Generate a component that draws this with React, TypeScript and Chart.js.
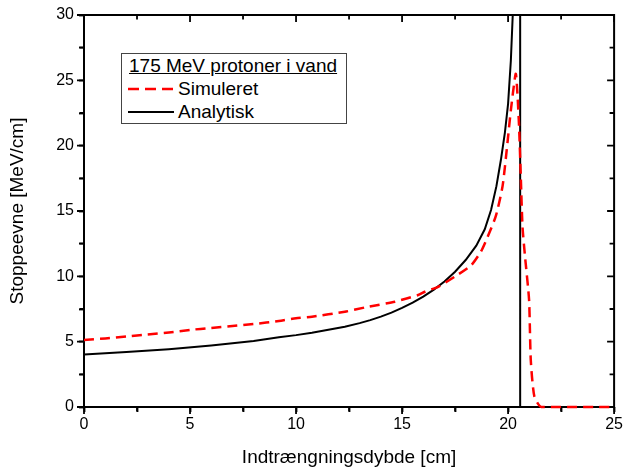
import React, { useEffect, useRef } from "react";
import { Chart, registerables } from "chart.js";

Chart.register(...registerables);

// Analytisk (analytical) stopping power
const analytiskX = [0, 2, 4, 6, 8, 9.19, 10, 10.75, 12.3, 13, 13.5, 14, 14.5, 15, 15.5, 16, 16.5, 17, 17.5, 18, 18.5, 18.9, 19.2, 19.45, 19.66, 19.85, 20.0, 20.13, 20.22, 20.35, 20.57, 20.57, 25];
const analytiskY = [4.02, 4.2, 4.42, 4.7, 5.05, 5.33, 5.5, 5.69, 6.14, 6.42, 6.65, 6.92, 7.22, 7.58, 7.98, 8.45, 8.98, 9.6, 10.35, 11.25, 12.35, 13.6, 15.1, 16.9, 18.9, 21.0, 23.2, 26.5, 30, 45, 45, 0, 0];

// Simuleret (simulated) stopping power
const simuleretX = [0, 1, 2, 3, 4, 5, 6, 7, 8, 9.19, 10, 10.75, 12.3, 13.4, 14.66, 15.76, 16.07, 16.7, 17.48, 18.26, 18.72, 19.03, 19.42, 19.74, 19.97, 20.13, 20.36, 20.44, 20.52, 20.6, 20.68, 20.8, 20.99, 21.07, 21.24, 21.57, 25];
const simuleretY = [5.13, 5.25, 5.4, 5.55, 5.7, 5.9, 6.05, 6.2, 6.35, 6.58, 6.8, 6.91, 7.29, 7.67, 8.06, 8.57, 8.82, 9.2, 9.97, 10.85, 11.9, 13.0, 14.6, 16.9, 20.2, 22.7, 25.5, 24.0, 21.4, 17.6, 13.8, 11.5, 8.2, 3.6, 0.8, 0, 0];

const xTicks = [0, 5, 10, 15, 20, 25];
const yTicks = [0, 5, 10, 15, 20, 25, 30];

const legendTitle = "175 MeV protoner i vand";
const seriesNames = ["Simuleret", "Analytisk"];
const xTitle = "Indtrængningsdybde [cm]";
const yTitle = "Stoppeevne [MeV/cm]";

const FONT = '"Liberation Sans", Arial, sans-serif';

const framePlugin = {
  id: "frameTicks",
  beforeDatasetsDraw(chart: any) {
    const { ctx, chartArea } = chart;
    const xs = chart.scales.x;
    const ys = chart.scales.y;
    ctx.save();
    ctx.strokeStyle = "#000";
    ctx.lineWidth = 2;
    ctx.strokeRect(chartArea.left, chartArea.top, chartArea.right - chartArea.left, chartArea.bottom - chartArea.top);
    ctx.lineWidth = 1.8;
    ctx.beginPath();
    xs.ticks.forEach((t: any) => {
      const px = xs.getPixelForValue(t.value);
      const major = xTicks.includes(t.value);
      const len = major ? 7 : 4.5;
      ctx.moveTo(px, chartArea.bottom);
      ctx.lineTo(px, chartArea.bottom + len);
      ctx.moveTo(px, chartArea.top);
      ctx.lineTo(px, chartArea.top + len);
    });
    ys.ticks.forEach((t: any) => {
      const py = ys.getPixelForValue(t.value);
      const major = yTicks.includes(t.value);
      const len = major ? 7 : 4.5;
      ctx.moveTo(chartArea.left, py);
      ctx.lineTo(chartArea.left - len, py);
      ctx.moveTo(chartArea.right, py);
      ctx.lineTo(chartArea.right - len, py);
    });
    ctx.stroke();
    ctx.restore();
  },
};

export default function App() {
  const canvasRef = useRef<HTMLCanvasElement | null>(null);

  useEffect(() => {
    if (!canvasRef.current) return;
    Chart.defaults.font.family = FONT;
    Chart.defaults.color = "#000";
    const chart = new Chart(canvasRef.current, {
      type: "line",
      data: {
        datasets: [
          {
            label: seriesNames[0],
            data: simuleretX.map((x, i) => ({ x, y: simuleretY[i] })),
            borderColor: "#ff0000",
            borderWidth: 2.5,
            borderDash: [10, 6],
            pointRadius: 0,
            tension: 0.2,
            fill: false,
            clip: { left: 0, top: 0, right: 2, bottom: 3 },
          },
          {
            label: seriesNames[1],
            data: analytiskX.map((x, i) => ({ x, y: analytiskY[i] })),
            borderColor: "#000000",
            borderWidth: 2,
            pointRadius: 0,
            tension: 0,
            fill: false,
          },
        ],
      },
      options: {
        animation: false,
        responsive: true,
        maintainAspectRatio: false,
        layout: { padding: { top: 15, right: 9, left: 0, bottom: 0 } },
        plugins: { legend: { display: false }, tooltip: { enabled: false } },
        scales: {
          x: {
            type: "linear",
            min: 0,
            max: 25,
            border: { display: false },
            grid: {
              display: true,
              drawOnChartArea: false,
              drawTicks: true,
              tickLength: 5,
              color: "transparent",
              tickColor: "#000",
              tickWidth: 1.8,
            },
            ticks: {
              stepSize: 2.5,
              padding: 3,
              maxRotation: 0,
              autoSkip: false,
              font: { size: 16 },
              color: "#000",
              callback: (v: any) => (xTicks.includes(Number(v)) ? String(v) : ""),
            },
            title: { display: true, text: xTitle, font: { size: 19 }, color: "#000", padding: { top: 0, bottom: 1 } },
            afterFit: (s: any) => {
              s.height = 63;
            },
          },
          y: {
            min: 0,
            max: 30,
            border: { display: false },
            grid: {
              display: true,
              drawOnChartArea: false,
              drawTicks: true,
              tickLength: 5,
              color: "transparent",
              tickColor: "#000",
              tickWidth: 1.8,
            },
            ticks: {
              stepSize: 2.5,
              padding: 5,
              autoSkip: false,
              font: { size: 16 },
              color: "#000",
              callback: (v: any) => (yTicks.includes(Number(v)) ? String(v) : ""),
            },
            title: { display: true, text: yTitle, font: { size: 19 }, color: "#000", padding: { top: 6, bottom: 0 } },
            afterFit: (s: any) => {
              s.width = 84;
            },
          },
        },
      },
      plugins: [framePlugin],
    });
    return () => chart.destroy();
  }, []);

  const rowStyle: React.CSSProperties = {
    position: "absolute",
    left: 6,
    height: 20,
    lineHeight: "20px",
    whiteSpace: "nowrap",
    display: "flex",
    alignItems: "center",
  };

  return (
    <div style={{ position: "absolute", left: 0, top: 0, width: 626, height: 470, background: "#fff" }}>
      <canvas ref={canvasRef} width={626} height={470} />
      <div
        style={{
          position: "absolute",
          left: 121,
          top: 53,
          width: 224,
          height: 69,
          border: "1px solid #444",
          background: "#fff",
          fontFamily: FONT,
          fontSize: 19,
          color: "#000",
        }}
      >
        <div style={{ ...rowStyle, top: 2, left: 7, textDecoration: "underline" }}>{legendTitle}</div>
        <div style={{ ...rowStyle, top: 25 }}>
          <svg width={46} height={6} style={{ marginRight: 4 }}>
            <line x1={0} y1={3} x2={46} y2={3} stroke="#ff0000" strokeWidth={2.5} strokeDasharray="11 6" />
          </svg>
          <span>{seriesNames[0]}</span>
        </div>
        <div style={{ ...rowStyle, top: 48 }}>
          <svg width={46} height={6} style={{ marginRight: 4 }}>
            <line x1={0} y1={3} x2={46} y2={3} stroke="#000" strokeWidth={2} />
          </svg>
          <span>{seriesNames[1]}</span>
        </div>
      </div>
    </div>
  );
}
